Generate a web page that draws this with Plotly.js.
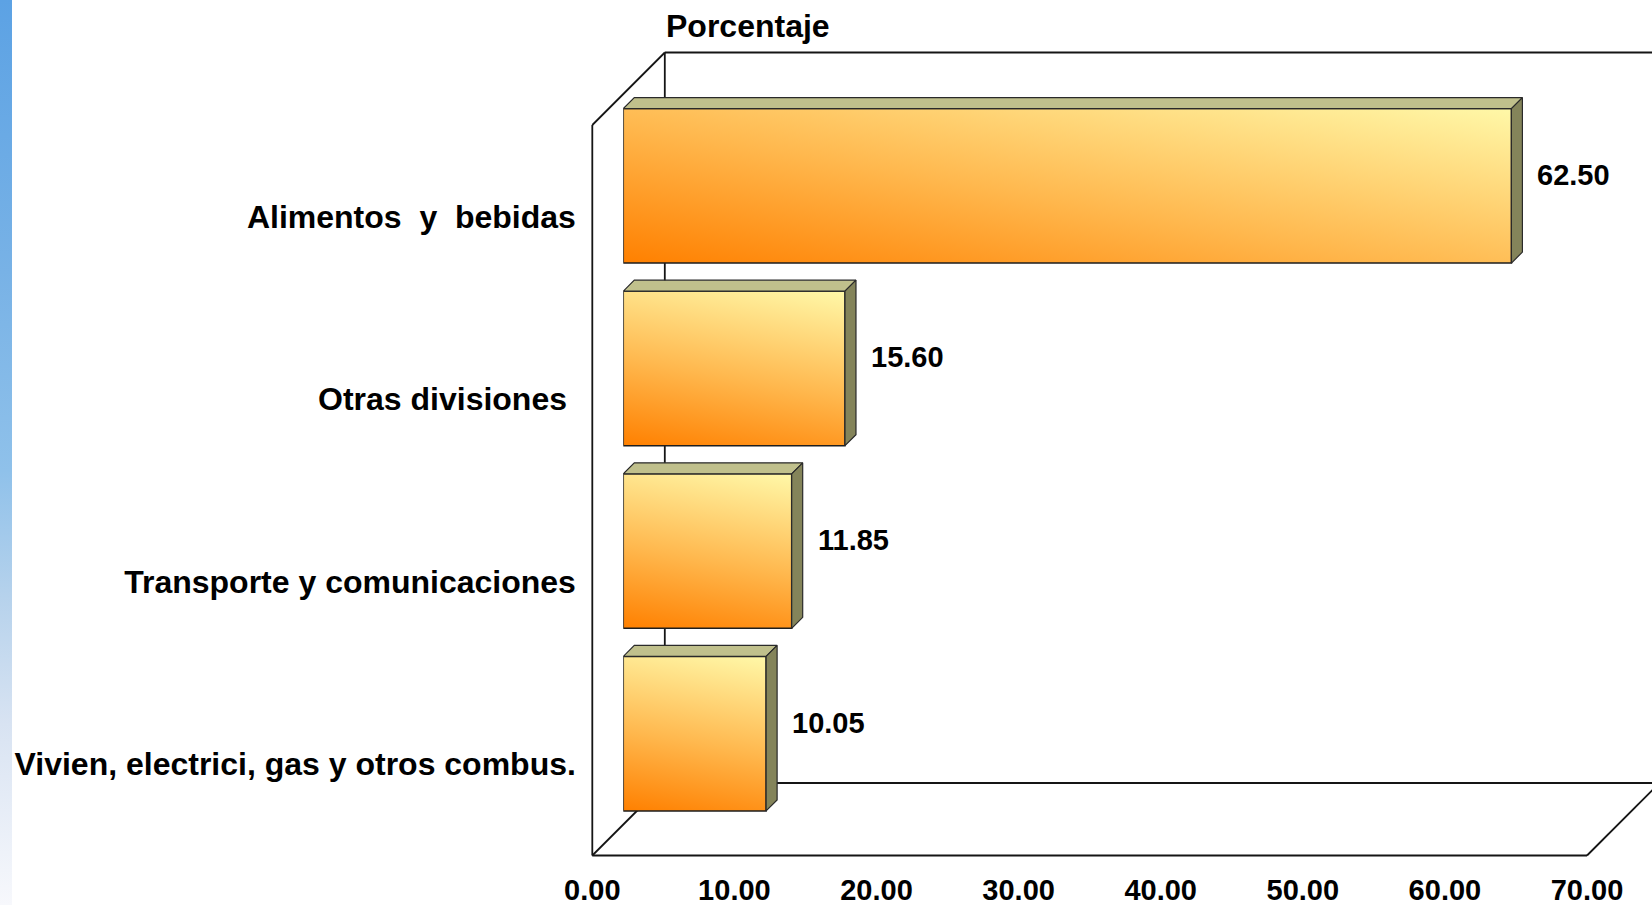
<!DOCTYPE html>
<html>
<head>
<meta charset="utf-8">
<script src="https://cdn.plot.ly/plotly-3.0.1.min.js"></script>
<style>
  html, body { margin: 0; padding: 0; background: #ffffff; }
  #strip {
    position: absolute; left: 0; top: 0; width: 12px; height: 905px;
    background: linear-gradient(to bottom, #5ca2e4 0%, #78b2e6 30%, #8fc1ea 52%, #b6d2ec 66%, #d8e3f2 80%, #f7f8fc 100%);
  }
  #chart { position: absolute; left: 0; top: 0; width: 1652px; height: 905px; }
</style>
</head>
<body>
<div id="strip"></div>
<div id="chart"></div>
<script>
// Expenditure shares by division (percent), listed top to bottom
const categories = [
  'Alimentos\u00a0 y\u00a0 bebidas',
  'Otras divisiones\u00a0',
  'Transporte y comunicaciones',
  'Vivien, electrici, gas y otros combus.'
];
const values = [62.50, 15.60, 11.85, 10.05];
const xTickVals = [0, 10, 20, 30, 40, 50, 60, 70];
const axisTitle = 'Porcentaje';

// ---- geometry of the pseudo-3D box (pixels) ----
const W = 1652, H = 905;
const L = 592, R = W, T = 52, B = 856;           // plotting area
const px = x => (x - L) / (R - L);
const py = y => (B - y) / (B - T);
const FX0 = 592.3, FX1 = 1587, FY0 = 125, FY1 = 855.5; // front plane
const D = 72.5;                                    // wall depth
const SHIFT_X = 31, SHIFT_Y = 30.5;                // bars sit inside the box
const FACE = 11;                                   // bar thickness
const BAR_W = 0.846;

const FONT = 'Liberation Sans, Arial, sans-serif';
const N = categories.length;
const idx = categories.map((_, i) => i);
const xMax = xTickVals[xTickVals.length - 1];
const unitX = (FX1 - FX0) / xMax;
const unitY = (FY1 - FY0) / N;
const fdx = FACE / unitX, fdy = FACE / unitY;

// top and side faces of each bar, built from its value
const topX = [], topY = [], sideX = [], sideY = [];
values.forEach((v, i) => {
  const yt = i - BAR_W / 2, yb = i + BAR_W / 2;
  topX.push(0, v, v + fdx, fdx, 0, null);
  topY.push(yt, yt, yt - fdy, yt - fdy, yt, null);
  sideX.push(v, v + fdx, v + fdx, v, v, null);
  sideY.push(yt, yt - fdy, yb - fdy, yb, yt, null);
});

const data = [
  // front-plane axes carry the category and percentage ticks
  {
    type: 'scatter', mode: 'none', x: values, y: idx,
    xaxis: 'x', yaxis: 'y', hoverinfo: 'skip', showlegend: false
  },
  {
    type: 'bar', orientation: 'h', x: values, y: idx,
    xaxis: 'x2', yaxis: 'y2', width: BAR_W,
    marker: { color: '#ffb04a', line: { color: '#1e1e1e', width: 1.5 } },
    hoverinfo: 'skip', showlegend: false
  },
  {
    type: 'scatter', mode: 'lines', x: topX, y: topY, xaxis: 'x2', yaxis: 'y2',
    fill: 'toself', fillcolor: '#c0c08c', line: { color: '#2a2a2a', width: 1.2 },
    hoverinfo: 'skip', showlegend: false
  },
  {
    type: 'scatter', mode: 'lines', x: sideX, y: sideY, xaxis: 'x2', yaxis: 'y2',
    fill: 'toself', fillcolor: '#84845a', line: { color: '#2a2a2a', width: 1.2 },
    hoverinfo: 'skip', showlegend: false
  }
];

const frameLine = (x0, y0, x1, y1) => ({
  type: 'line', xref: 'paper', yref: 'paper', layer: 'below',
  x0: px(x0), y0: py(y0), x1: px(x1), y1: py(y1),
  line: { color: '#151515', width: 1.8 }
});

const layout = {
  width: W, height: H,
  margin: { l: L, r: W - R, t: T, b: H - B, pad: 0 },
  paper_bgcolor: 'rgba(0,0,0,0)',
  plot_bgcolor: 'rgba(0,0,0,0)',
  showlegend: false,
  font: { family: FONT, color: '#000000' },
  title: {
    text: axisTitle, xref: 'container', yref: 'container',
    x: 666 / W, xanchor: 'left', y: 1 - 26 / H, yanchor: 'middle',
    font: { family: FONT, size: 32, weight: 'bold', color: '#000000' }
  },
  xaxis: {
    domain: [px(FX0), px(FX1)], range: [0, xMax], anchor: 'y',
    tickvals: xTickVals, ticktext: xTickVals.map(v => v.toFixed(2)),
    ticks: 'outside', ticklen: 9, tickcolor: 'rgba(0,0,0,0)',
    tickfont: { family: FONT, size: 29, weight: 'bold', color: '#000000' },
    showline: false, showgrid: false, zeroline: false, fixedrange: true
  },
  yaxis: {
    domain: [py(FY1), py(FY0)], range: [N - 0.5, -0.5], anchor: 'x',
    tickvals: idx, ticktext: categories,
    ticks: 'outside', ticklen: 9, tickcolor: 'rgba(0,0,0,0)',
    tickfont: { family: FONT, size: 32, weight: 'bold', color: '#000000' },
    showline: false, showgrid: false, zeroline: false, fixedrange: true
  },
  xaxis2: {
    domain: [px(FX0 + SHIFT_X), px(FX1 + SHIFT_X)], range: [0, xMax],
    anchor: 'y2', visible: false, fixedrange: true
  },
  yaxis2: {
    domain: [py(FY1 - SHIFT_Y), py(FY0 - SHIFT_Y)], range: [N - 0.5, -0.5],
    anchor: 'x2', visible: false, fixedrange: true
  },
  shapes: [
    frameLine(FX0 + D, FY0 - D, W + 40, FY0 - D),   // back wall top
    frameLine(FX0 + D, FY0 - D, FX0 + D, FY1 - D),  // back wall left edge
    frameLine(FX0 + D, FY1 - D, W + 40, FY1 - D),   // back floor edge
    frameLine(FX0, FY0, FX0 + D, FY0 - D),          // side wall top
    frameLine(FX0, FY0, FX0, FY1),                  // front left edge
    frameLine(FX0, FY1, FX1, FY1),                  // front floor edge
    frameLine(FX0, FY1, FX0 + D, FY1 - D),          // floor left
    frameLine(FX1, FY1, FX1 + D, FY1 - D)           // floor right
  ],
  annotations: values.map((v, i) => ({
    xref: 'x2', yref: 'y2', x: v, y: i,
    text: v.toFixed(2), showarrow: false,
    xanchor: 'left', yanchor: 'middle', xshift: 24, yshift: 11,
    font: { family: FONT, size: 29, weight: 'bold', color: '#000000' }
  }))
};

const gd = document.getElementById('chart');
Plotly.newPlot(gd, data, layout, { displayModeBar: false, staticPlot: true }).then(() => {
  // shaded front faces: orange at the lower left fading to pale yellow at the upper right
  const NS = 'http://www.w3.org/2000/svg';
  const svg = gd.querySelector('svg.main-svg');
  let defs = svg.querySelector('defs');
  if (!defs) { defs = document.createElementNS(NS, 'defs'); svg.insertBefore(defs, svg.firstChild); }
  const stops = [[0, '#ff8000'], [0.45, '#ffb84e'], [1, '#fff8a8']];
  const ang = 80 * Math.PI / 180, c = Math.cos(ang), s = Math.sin(ang);
  gd.querySelectorAll('.barlayer .point path').forEach((p, k) => {
    const b = p.getBBox();
    const len = b.width * c + b.height * s;
    const g = document.createElementNS(NS, 'linearGradient');
    g.setAttribute('id', 'barFace' + k);
    g.setAttribute('gradientUnits', 'userSpaceOnUse');
    g.setAttribute('x1', b.x);
    g.setAttribute('y1', b.y + b.height);
    g.setAttribute('x2', b.x + len * c);
    g.setAttribute('y2', b.y + b.height - len * s);
    stops.forEach(([o, col]) => {
      const st = document.createElementNS(NS, 'stop');
      st.setAttribute('offset', o);
      st.setAttribute('stop-color', col);
      g.appendChild(st);
    });
    defs.appendChild(g);
    p.style.fill = 'url(#barFace' + k + ')';
  });
});
</script>
</body>
</html>
